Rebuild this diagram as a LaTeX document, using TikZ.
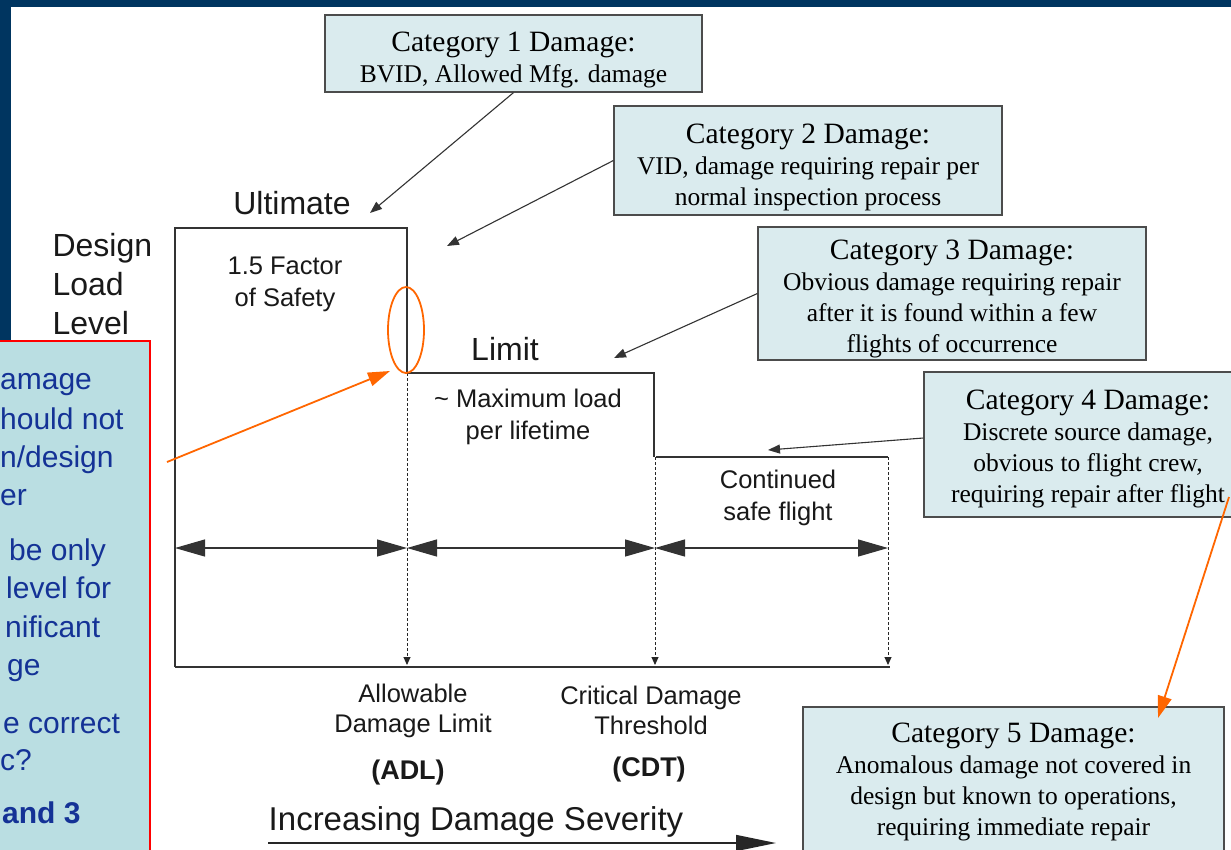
\documentclass[tikz,border=0pt]{standalone}
\usepackage{fontspec}
\setmainfont{Liberation Serif}
\newfontfamily\arial{Liberation Sans}
\usepackage{tikz}
\usetikzlibrary{
  positioning,
  arrows.meta, shapes.geometric
}
\definecolor{navy}{RGB}{0,53,96}
\definecolor{catfill}{RGB}{218,235,238}
\definecolor{notefill}{RGB}{186,222,226}
\definecolor{noteblue}{RGB}{20,50,150}
\definecolor{hotorange}{RGB}{255,102,0}
\newcommand{\cattitle}[2][37pt]{{\fontsize{29.5}{31}\selectfont\rule{0pt}{#1}#2}}
\begin{document}
\begin{tikzpicture}[x=1pt,y=-1pt,
      cat/.style={draw=black!70,fill=catfill,line width=1.2pt,align=center,inner sep=0pt,font=\fontsize{25.5}{31}\selectfont},
      lbl/.style={align=center,font=\arial\fontsize{25.5}{32}\selectfont,text=black!90},
      big/.style={align=left,font=\arial\fontsize{32}{39}\selectfont,text=black!90},
      note/.style={anchor=base west,inner sep=0pt,font=\arial\fontsize{30}{36}\selectfont,text=noteblue},
      ptr/.style={-{Triangle[length=12pt,width=9pt]},line width=1.1pt,black!80},
      hot/.style={-{Triangle[length=22pt,width=14pt]},line width=1.8pt,hotorange},
      spanarrow/.style={{Triangle[length=30pt,width=17pt]}-{Triangle[length=30pt,width=17pt]},line width=1.2pt,black!80},
      drop/.style={-{Triangle[length=8pt,width=7pt]},densely dashed,line width=0.9pt,black!85},
      outline/.style={line width=1.6pt,black!80}]
      \useasboundingbox (0,0) rectangle (1231,849);
      \fill[navy] (0,0) rectangle (1231,849);
      \fill[white] (11,7) rectangle (1231,849);
      \fill[notefill] (0,341) rectangle (150,860);
      \draw[red,line width=1.2pt] (0,341) -- (150,341) -- (150,860);
      \node at (0,389) [note] (n1) {amage};
      \node at (0,429) [note] (n2) {hould not};
      \node at (0,467) [note] (n3) {n/design};
      \node at (0,505) [note] (n4) {er};
      \node at (9,560) [note] (n5) {be only};
      \node at (6,598) [note] (n6) {level for};
      \node at (5,637) [note] (n7) {nificant};
      \node at (7,675) [note] (n8) {ge};
      \node at (3,733) [note] (n9) {e correct};
      \node at (0,770) [note] (n10) {c?};
      \node at (2,823) [note,font=\arial\bfseries\fontsize{30}{36}\selectfont] (n11) {and 3};
      \draw[outline] (175,667) -- (175,228) -- (407,228) -- (407,373) -- (654,373) -- (654,457);
      \draw[outline] (656,457) -- (888,457);
      \draw[outline] (175,667) -- (890,667);
      \coordinate (adl) at (407,373);
      \coordinate (cdt) at (655,457);
      \coordinate (csf) at (888,457);
      \coordinate (adlb) at (407,665);
      \coordinate (cdtb) at (655,665);
      \coordinate (csfb) at (888,665);
      \draw[drop] (adl) -- (adlb);
      \draw[drop] (cdt) -- (cdtb);
      \draw[drop] (csf) -- (csfb);
      \coordinate (u0) at (175,548);
      \coordinate (u1) at (407,548);
      \coordinate (u2) at (655,548);
      \coordinate (u3) at (888,548);
      \draw[spanarrow] (u0) -- (u1);
      \draw[spanarrow] (u1) -- (u2);
      \draw[spanarrow] (u2) -- (u3);
      \node at (292,203) [big] (ult) {Ultimate};
      \node at (49,284) [big,anchor=west] (dll) {Design\\Load\\Level};
      \node at (285,284) [lbl] (fos) {1.5 Factor\\of Safety};
      \node at (505,349) [big] (lim) {Limit};
      \node at (528,417) [lbl] (mlp) {\textasciitilde\ Maximum load\\per lifetime};
      \node at (778,498) [lbl] (csl) {Continued\\safe flight};
      \node at (413,711) [lbl,font=\arial\fontsize{25.5}{30}\selectfont] (adlt) {Allowable\\Damage Limit};
      \node at (408,773) [lbl,font=\arial\bfseries\fontsize{27}{30}\selectfont] (adln) {(ADL)};
      \node at (651,710) [lbl,font=\arial\fontsize{25.5}{30}\selectfont] (cdtt) {Critical Damage\\Threshold};
      \node at (649,770) [lbl,font=\arial\bfseries\fontsize{27}{30}\selectfont] (cdtn) {(CDT)};
      \node at (476,822) [big,font=\arial\fontsize{33}{36}\selectfont] (ids) {Increasing Damage Severity};
      \coordinate (ids0) at (268,843);
      \coordinate (ids1) at (776,843);
      \draw[-{Triangle[length=40pt,width=16pt]},line width=1.6pt,black!85] (ids0) -- (ids1);
      \node at (513.5,53.5) [cat,minimum width=377,minimum height=77] (c1) {\cattitle[32pt]{Category 1 Damage:}\\BVID, Allowed Mfg. damage};
      \node at (808,160.5) [cat,minimum width=388,minimum height=109] (c2) {\cattitle[33pt]{Category 2 Damage:}\\VID, damage requiring repair per\\normal inspection process};
      \node at (952,293.5) [cat,minimum width=388,minimum height=133] (c3) {\cattitle[31pt]{Category 3 Damage:}\\Obvious damage requiring repair\\after it is found within a few\\flights of occurrence};
      \node at (1088,444.5) [cat,minimum width=328,minimum height=145] (c4) {\cattitle[28pt]{Category 4 Damage:}\\Discrete source damage,\\obvious to flight crew,\\requiring repair after flight};
      \node at (1013.5,782) [cat,minimum width=421,minimum height=150] (c5) {\cattitle[20pt]{Category 5 Damage:}\\Anomalous damage not covered in\\design but known to operations,\\requiring immediate repair};
      \coordinate (p1) at (370,213);
      \coordinate (p2) at (447,246);
      \coordinate (p3) at (614,358);
      \coordinate (p4) at (768,450);
      \draw[ptr] (c1.south) -- (p1);
      \draw[ptr] (c2.west) -- (p2);
      \draw[ptr] (c3.west) -- (p3);
      \draw[ptr] (c4.west |- 0,438) -- (p4);
      \draw[hotorange,line width=1.8pt] (406,330) ellipse [x radius=18,y radius=43];
      \coordinate (h0) at (167,462);
      \coordinate (h1) at (390,371);
      \coordinate (h2) at (1229,497);
      \coordinate (h3) at (1158,718);
      \draw[hot] (h0) -- (h1);
      \draw[hot] (h2) -- (h3);
  \end{tikzpicture}
\end{document}
